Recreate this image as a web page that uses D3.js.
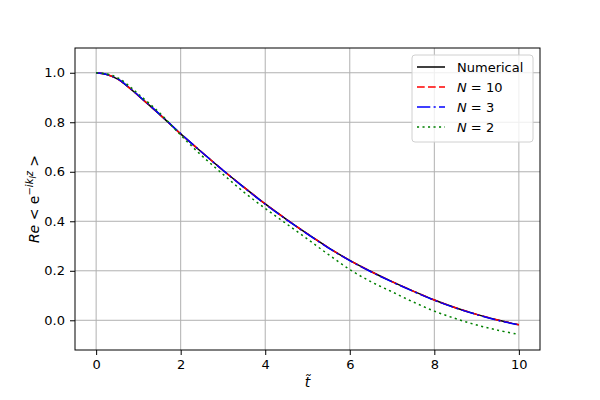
<!DOCTYPE html>
<html lang="en">
<head>
<meta charset="UTF-8">
<title>Re e^-ikz</title>
<script src="https://d3js.org/d3.v7.min.js"></script>
<style>
  body { margin: 0; background: #fff; }
  text { font-family: "DejaVu Sans", sans-serif; }
</style>
</head>
<body>
<svg id="chart" width="600" height="400"></svg>
<script>
// values
const tValues = [0, 0.25, 0.5, 0.75, 1, 1.5, 2, 2.5, 3, 3.5, 4, 4.5, 5, 5.5, 6, 6.5, 7, 7.5, 8, 8.5, 9, 9.5, 10];
const numerical = [1.0, 0.993, 0.975, 0.944, 0.907, 0.832, 0.753, 0.679, 0.606, 0.537, 0.47, 0.408, 0.349, 0.293, 0.242, 0.197, 0.156, 0.118, 0.082, 0.051, 0.024, 0.001, -0.018];
const n10 = [1.0, 0.993, 0.975, 0.944, 0.907, 0.832, 0.753, 0.679, 0.606, 0.537, 0.47, 0.408, 0.349, 0.293, 0.242, 0.197, 0.156, 0.118, 0.082, 0.051, 0.024, 0.001, -0.018];
const n3 = [1.0, 0.993, 0.976, 0.945, 0.908, 0.833, 0.754, 0.679, 0.606, 0.536, 0.469, 0.407, 0.348, 0.292, 0.241, 0.196, 0.155, 0.117, 0.081, 0.05, 0.023, 0.0, -0.019];
const n2 = [1.0, 0.995, 0.981, 0.951, 0.914, 0.838, 0.748, 0.665, 0.59, 0.517, 0.452, 0.39, 0.328, 0.265, 0.205, 0.156, 0.115, 0.074, 0.037, 0.007, -0.019, -0.04, -0.057];
const xTicks = [0, 2, 4, 6, 8, 10];
const yTicks = [0.0, 0.2, 0.4, 0.6, 0.8, 1.0];

const series = [
  { name: "Numerical", values: numerical, color: "black", dash: null },
  { name: "N=10", values: n10, color: "red", dash: "7.7,3.3" },
  { name: "N=3", values: n3, color: "blue", dash: "13.3,3.3,2.1,3.3" },
  { name: "N=2", values: n2, color: "green", dash: "2.1,3.4" }
];

const svg = d3.select("#chart");
const m = { left: 75, right: 540, top: 48, bottom: 350 };

const x = d3.scaleLinear().domain([-0.5, 10.5]).range([m.left, m.right]);
const y = d3.scaleLinear().domain([-0.12, 1.1]).range([m.bottom, m.top]);

// grid
svg.append("g").selectAll("line").data(xTicks).enter().append("line")
  .attr("x1", d => x(d)).attr("x2", d => x(d))
  .attr("y1", m.top).attr("y2", m.bottom)
  .attr("stroke", "#b0b0b0").attr("stroke-width", 1);
svg.append("g").selectAll("line").data(yTicks).enter().append("line")
  .attr("x1", m.left).attr("x2", m.right)
  .attr("y1", d => y(d)).attr("y2", d => y(d))
  .attr("stroke", "#b0b0b0").attr("stroke-width", 1);

// axes
const xAxis = d3.axisBottom(x).tickValues(xTicks).tickFormat(d3.format("d")).tickSize(5).tickPadding(5);
const yAxis = d3.axisLeft(y).tickValues(yTicks).tickFormat(d3.format(".1f")).tickSize(5).tickPadding(5);

const gx = svg.append("g").attr("transform", `translate(0,${m.bottom})`).call(xAxis);
const gy = svg.append("g").attr("transform", `translate(${m.left},0)`).call(yAxis);
[gx, gy].forEach(g => {
  g.select(".domain").remove();
  g.selectAll("text").attr("font-size", 13).attr("fill", "#000").attr("font-family", "DejaVu Sans");
  g.selectAll("line").attr("stroke", "#000").attr("stroke-width", 1);
});

// lines
const line = d3.line()
  .x((d, i) => x(tValues[i]))
  .y(d => y(d))
  .curve(d3.curveCatmullRom.alpha(0.5));

svg.append("g").selectAll("path").data(series).enter().append("path")
  .attr("d", d => line(d.values))
  .attr("fill", "none")
  .attr("stroke", d => d.color)
  .attr("stroke-width", 1.5)
  .attr("stroke-dasharray", d => d.dash);

// frame
svg.append("rect")
  .attr("x", m.left).attr("y", m.top)
  .attr("width", m.right - m.left).attr("height", m.bottom - m.top)
  .attr("fill", "none").attr("stroke", "#000").attr("stroke-width", 1);

// legend
const lg = svg.append("g").attr("transform", "translate(412,55)");
lg.append("rect")
  .attr("width", 121).attr("height", 87).attr("rx", 3)
  .attr("fill", "white").attr("fill-opacity", 0.8)
  .attr("stroke", "#d0d0d0").attr("stroke-width", 1);

const rows = lg.selectAll("g.row").data(series).enter().append("g")
  .attr("class", "row")
  .attr("transform", (d, i) => `translate(0,${12 + i * 20})`);
rows.append("line")
  .attr("x1", 5).attr("x2", 33).attr("y1", 0).attr("y2", 0)
  .attr("stroke", d => d.color).attr("stroke-width", 1.5)
  .attr("stroke-dasharray", d => d.dash);
rows.each(function(d) {
  const t = d3.select(this).append("text")
    .attr("x", 45).attr("y", 5).attr("font-size", 13).attr("fill", "#000");
  if (d.name === "Numerical") {
    t.text("Numerical");
  } else {
    t.append("tspan").attr("font-style", "italic").text("N");
    t.append("tspan").text(" = " + d.name.split("=")[1]);
  }
});

// x label
svg.append("text")
  .attr("x", (m.left + m.right) / 2).attr("y", 387)
  .attr("text-anchor", "middle").attr("font-size", 14)
  .attr("font-style", "italic").text("t\u0303");

// y label
const yl = svg.append("text")
  .attr("transform", `translate(39,${(m.top + m.bottom) / 2}) rotate(-90)`)
  .attr("text-anchor", "middle").attr("font-size", 14);
yl.append("tspan").attr("font-style", "italic").text("Re");
yl.append("tspan").text(" < e");
yl.append("tspan").attr("font-size", 10).attr("baseline-shift", "6").text("\u2212");
yl.append("tspan").attr("font-size", 10).attr("font-style", "italic").attr("baseline-shift", "6").text("ik");
yl.append("tspan").attr("font-size", 8).attr("font-style", "italic").attr("baseline-shift", "3").text("l");
yl.append("tspan").attr("font-size", 10).attr("font-style", "italic").attr("baseline-shift", "6").text("z");
yl.append("tspan").text(" >");
</script>
</body>
</html>
